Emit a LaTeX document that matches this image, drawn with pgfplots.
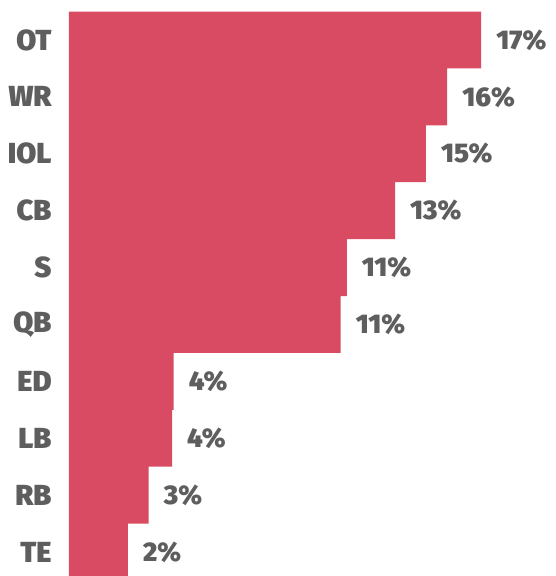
\documentclass[border=0pt]{standalone}
\usepackage{fontspec}
\setmainfont{Fira Sans}[BoldFont={* Black}]
\usepackage{pgfplots}
\pgfplotsset{compat=1.18}
\definecolor{barred}{HTML}{D94A63}
\definecolor{labgray}{HTML}{5E5E5E}

\begin{document}
\begin{tikzpicture}
\clip (-69pt,0pt) rectangle (486pt,576pt);
\begin{axis}[
  at={(0pt,-4.5pt)}, anchor=south west,
  scale only axis, width=486pt, height=569pt,
  xbar, bar width=1, bar shift=0pt,
  xmin=0, xmax=20.05,
  ymin=-0.5, ymax=9.5, y dir=reverse,
  axis line style={draw=none},
  tick style={draw=none},
  xtick=\empty,
  ytick={0,...,9},
  yticklabels={OT,WR,IOL,CB,S,QB,ED,LB,RB,TE},
  yticklabel style={font=\fontsize{29}{29}\selectfont\bfseries, text=labgray, anchor=east, inner sep=0pt, xshift=-13pt},
  point meta=explicit symbolic,
  nodes near coords,
  nodes near coords style={font=\fontsize{27}{27}\selectfont\bfseries, text=labgray, anchor=west, inner sep=0pt, xshift=15pt},
]
\addplot[fill=barred, draw=none] coordinates {
  (17.00,0) [17\%]
  (15.60,1) [16\%]
  (14.72,2) [15\%]
  (13.45,3) [13\%]
  (11.46,4) [11\%]
  (11.21,5) [11\%]
  (4.32,6)  [4\%]
  (4.25,7)  [4\%]
  (3.29,8)  [3\%]
  (2.43,9)  [2\%]
};
\end{axis}
\end{tikzpicture}
\end{document}
